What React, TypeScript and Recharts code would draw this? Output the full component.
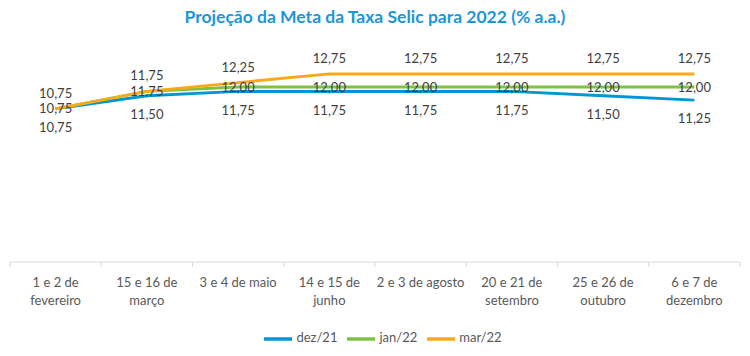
import React from 'react';
import { LineChart, Line, XAxis, YAxis, Legend, LabelList } from 'recharts';

const categories = [
  '1 e 2 de\nfevereiro',
  '15 e 16 de\nmarço',
  '3 e 4 de maio',
  '14 e 15 de\njunho',
  '2 e 3 de agosto',
  '20 e 21 de\nsetembro',
  '25 e 26 de\noutubro',
  '6 e 7 de\ndezembro',
];
const dez21 = [10.75, 11.5, 11.75, 11.75, 11.75, 11.75, 11.5, 11.25];
const jan22 = [10.75, 11.75, 12.0, 12.0, 12.0, 12.0, 12.0, 12.0];
const mar22 = [10.75, 11.75, 12.25, 12.75, 12.75, 12.75, 12.75, 12.75];

const FONT = 'Lato, "Open Sans", sans-serif';
const W = 750;
const H = 356;
const MARGIN = { top: 52, right: 10, left: 10, bottom: 8 };
const BAND = (W - MARGIN.left - MARGIN.right) / categories.length;

const chartData = categories.map((name, i) => ({
  name,
  dez21: dez21[i],
  jan22: jan22[i],
  mar22: mar22[i],
}));

const fmt = (v: any) => Number(v).toFixed(2).replace('.', ',');

const CategoryTick = (props: any) => {
  const { x, y, payload, index } = props;
  const lines = String(payload.value).split('\n');
  return (
    <g>
      <line x1={x - BAND / 2} x2={x - BAND / 2} y1={y - 8} y2={y - 3} stroke="#d9d9d9" />
      {index === categories.length - 1 && (
        <line x1={x + BAND / 2} x2={x + BAND / 2} y1={y - 8} y2={y - 3} stroke="#d9d9d9" />
      )}
      <text x={x} y={y} textAnchor="middle" fill="#595959" fontSize={13} fontFamily={FONT}>
        {lines.map((l, i) => (
          <tspan key={i} x={x} dy={i === 0 ? 17 : 18}>{l}</tspan>
        ))}
      </text>
    </g>
  );
};

const labelStyle = { fill: '#404040', fontSize: 13, fontFamily: FONT };

export default function App() {
  return (
    <div style={{ position: 'absolute', left: 0, top: 0, width: W, height: H, background: '#fff' }}>
      <div
        style={{
          position: 'absolute', top: 6, left: 0, width: W, textAlign: 'center',
          color: '#1b96d9', fontWeight: 'bold', fontSize: 17.5, fontFamily: FONT,
        }}
      >
        Projeção da Meta da Taxa Selic para 2022 (% a.a.)
      </div>
      <LineChart width={W} height={H} data={chartData} margin={MARGIN}>
        <XAxis
          dataKey="name"
          interval={0}
          padding={{ left: BAND / 2, right: BAND / 2 }}
          axisLine={{ stroke: '#d9d9d9' }}
          tickLine={false}
          tick={<CategoryTick />}
          height={52}
        />
        <YAxis hide domain={[2, 14]} />
        <Legend
          verticalAlign="bottom"
          iconType="plainline"
          iconSize={28}
          wrapperStyle={{
            fontFamily: FONT, fontSize: 13, height: 34, paddingTop: 11, paddingLeft: 26,
            boxSizing: 'border-box',
          }}
          formatter={(value: string) => <span style={{ color: '#595959' }}>{value}</span>}
        />
        <Line dataKey="dez21" name="dez/21" stroke="#0096d6" strokeWidth={3} dot={false} isAnimationActive={false}>
          <LabelList dataKey="dez21" position="bottom" offset={14} formatter={fmt} style={labelStyle} />
        </Line>
        <Line dataKey="jan22" name="jan/22" stroke="#7dc242" strokeWidth={3} dot={false} isAnimationActive={false}>
          <LabelList dataKey="jan22" position="center" formatter={fmt} style={labelStyle} />
        </Line>
        <Line dataKey="mar22" name="mar/22" stroke="#fba919" strokeWidth={3} dot={false} isAnimationActive={false}>
          <LabelList dataKey="mar22" position="top" offset={11} formatter={fmt} style={labelStyle} />
        </Line>
      </LineChart>
    </div>
  );
}
